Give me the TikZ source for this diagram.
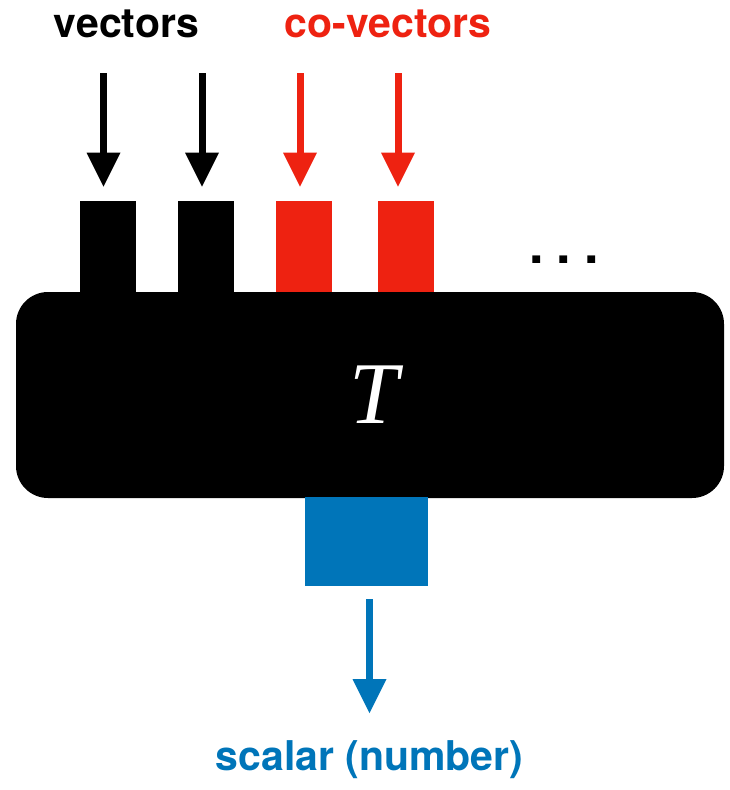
\documentclass[tikz,border=0pt]{standalone}
\usepackage{fontspec}
\setsansfont{TeX Gyre Heros}
\newfontfamily\tensorfont{Liberation Serif}
\usetikzlibrary{arrows.meta}
\definecolor{covecred}{RGB}{238,34,17}
\definecolor{scalarblue}{RGB}{0,117,185}

\begin{document}
\begin{tikzpicture}[x = 1pt, y = -1pt, font=\sffamily\bfseries]
	\tikzstyle{legStyle} = [rectangle, inner sep = 0pt, minimum width = 56pt, minimum height = 91pt, anchor = south]
	\tikzstyle{tensorStyle} = [rectangle, rounded corners = 32pt, fill = black, text = white, inner sep = 0pt, minimum width = 708pt, minimum height = 206pt]
	\tikzstyle{arrowStyle} = [line width = 7pt, -{Triangle[length = 34pt, width = 34pt, line width = 0pt]}]
	\tikzstyle{labelStyle} = [anchor = base, inner sep = 0pt, font = \fontsize{41}{41}\selectfont\sffamily\bfseries]
	\useasboundingbox (0,0) rectangle (729,790);
	\node[labelStyle] (vecLabel) at (126.5,37) {vectors};
	\node[labelStyle, text = covecred] (covecLabel) at (388,37) {co-vectors};
	\node[labelStyle, text = scalarblue] (scalarLabel) at (369.5,770) {scalar (number)};
	\node[legStyle, fill = black] (leg1) at (108,292) {};
	\node[legStyle, fill = black] (leg2) at (206,292) {};
	\node[legStyle, fill = covecred] (leg3) at (304,292) {};
	\node[legStyle, fill = covecred] (leg4) at (406,292) {};
	%\node[legStyle, fill = black] (leg5) at (504,292) {};
	\node[anchor = base, inner sep = 0pt, font = \fontsize{52}{52}\selectfont\sffamily\bfseries] (dots) at (564,263) {.\hspace{13pt}.\hspace{13pt}.};
	\node[tensorStyle, font = \fontsize{88}{88}\selectfont\tensorfont\itshape] (tensor) at (370,395) {\hspace*{8pt}T};
	\node[legStyle, fill = scalarblue, minimum width = 123pt, minimum height = 89pt, anchor = north] (outleg) at (366.5,497) {};
	\coordinate (in1) at (103.5,73);
	\coordinate (in2) at (202,73);
	\coordinate (in3) at (300,73);
	\coordinate (in4) at (398,73);
	\coordinate (outtip) at (369.5,713);
	\draw[arrowStyle, shorten > = 14pt] (in1) -- (in1 |- leg1.north);
	\draw[arrowStyle, shorten > = 14pt] (in2) -- (in2 |- leg2.north);
	\draw[arrowStyle, covecred, shorten > = 14pt] (in3) -- (in3 |- leg3.north);
	\draw[arrowStyle, covecred, shorten > = 14pt] (in4) -- (in4 |- leg4.north);
	\draw[arrowStyle, scalarblue, shorten < = 13pt] (outleg.south -| outtip) -- (outtip);
\end{tikzpicture}
\end{document}
